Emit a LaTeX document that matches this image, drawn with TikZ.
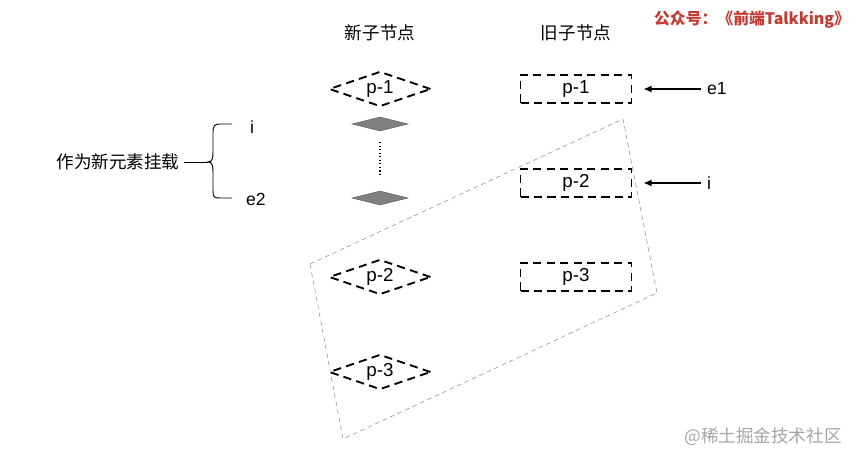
\documentclass[tikz,border=0pt]{standalone}
\usepackage{fontspec}
\setmainfont{Liberation Sans}
\newfontfamily\cjk{Noto Sans CJK SC}
\usetikzlibrary{shapes.geometric,arrows.meta}
\definecolor{titlered}{RGB}{196,58,48}
\definecolor{framepurple}{RGB}{150,145,178}
\definecolor{markgray}{RGB}{165,165,165}
\tikzset{
	newnode/.style={diamond, draw, line width=1.6pt, dash pattern=on 7pt off 4.5pt,
		shape aspect=3.4, minimum width=3.05cm, minimum height=1.05cm, inner sep=0pt,
		font=\fontsize{16}{19}\selectfont},
	oldnode/.style={rectangle, draw, line width=1.6pt, dash pattern=on 7pt off 4.5pt,
		minimum width=3.33cm, minimum height=0.84cm, inner sep=0pt, font=\fontsize{16}{19}\selectfont},
	greynode/.style={diamond, draw=black!65, fill=black!50, line width=0.4pt,
		minimum width=1.68cm, minimum height=0.42cm, inner sep=0pt},
	pointer/.style={-{Latex[length=7pt,width=6pt]}, line width=1.1pt},
}
\begin{document}
\begin{tikzpicture}[x=0.03cm, y=-0.03cm, font=\fontsize{15}{18}\selectfont]
	\useasboundingbox (0,0) rectangle (857,454);
	\node (newhead) at (380,33) {\cjk 新子节点};
	\node (oldhead) at (576,33) {\cjk 旧子节点};
	\node[text=titlered, font=\fontsize{13.5}{16}\selectfont\bfseries] (title) at (752,20) {\cjk 公众号：《前端Talkking》};
	\foreach \n/\y in {1/89, 2/277, 3/372}
		\node[newnode] (new\n) at (380,\y) {p-\n};
	\foreach \n/\y in {1/89, 2/183, 3/277}
		\node[oldnode] (old\n) at (576,\y) {p-\n};
	\node[greynode] (grey1) at (380,124) {};
	\node[greynode] (grey2) at (380,198) {};
	\draw[line width=1pt, dotted, shorten <=0.33cm, shorten >=0.5cm] (grey1) -- (grey2);
	\node[anchor=west] (e1) at (703,89) {e1};
	\node[anchor=west] (iold) at (703,183) {i};
	\draw[pointer, shorten <=0.05cm, shorten >=0.33cm] (e1.west) -- (old1.east);
	\draw[pointer, shorten <=0.05cm, shorten >=0.33cm] (iold.west) -- (old2.east);
	\node (mount) at (118,162) {\cjk 作为新元素挂载};
	\node (inew) at (252,127) {i};
	\node (e2) at (256,199) {e2};
	\coordinate (tip) at (208,162);
	\coordinate (bracetop) at (232,124);
	\coordinate (bracebot) at (232,198);
	\draw[line width=0.8pt] (mount.east) -- (tip);
	\draw[line width=0.8pt] (bracetop) -- (220,124) .. controls (214,124) and (213,126) .. (213,133)
		-- (213,152) .. controls (213,159) and (212,162) .. (tip)
		.. controls (212,162) and (213,165) .. (213,172) -- (213,191)
		.. controls (213,197) and (214,198) .. (220,198) -- (bracebot);
	\coordinate (fa) at (310,264);
	\coordinate (fb) at (623,119);
	\coordinate (fc) at (657,293);
	\coordinate (fd) at (343,439);
	\draw[framepurple, line width=0.5pt, dash pattern=on 4pt off 3pt] (fa) -- (fb) -- (fc) -- (fd) -- cycle;
	\node[text=markgray] (mark) at (763,437) {\cjk @稀土掘金技术社区};
\end{tikzpicture}
\end{document}
